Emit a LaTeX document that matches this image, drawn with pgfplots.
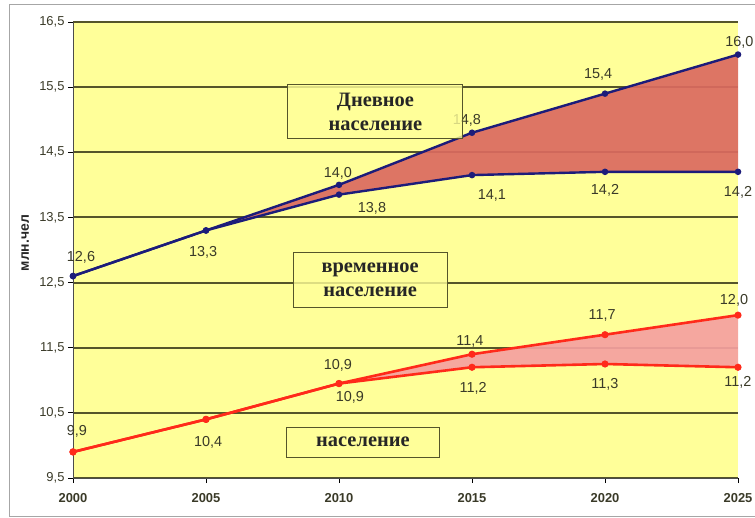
\documentclass[border=0pt]{standalone}
\usepackage{pgfplots}
\pgfplotsset{compat=1.18}
\usepgfplotslibrary{fillbetween}
\usepackage{fontspec}
\setmainfont{Liberation Sans}
\newfontfamily\serifb{Liberation Serif}
\definecolor{bg}{HTML}{FFFF99}
\definecolor{gridc}{HTML}{55552A}
\definecolor{navy}{HTML}{1C1C7A}
\definecolor{redl}{HTML}{FF2A1A}
\definecolor{fillA}{HTML}{DB6A60}
\definecolor{fillB}{HTML}{F5A0A0}
\definecolor{lbl}{HTML}{3A3A28}
\tikzset{
  lbl/.style={font=\fontsize{14.5}{16}\selectfont, text=lbl, inner sep=0pt},
  box/.style={draw=gridc, fill=bg, fill opacity=0.8, text opacity=1, line width=0.9bp, align=center,
    font=\serifb\bfseries\fontsize{20.5}{24}\selectfont, text=black!85, inner sep=0pt},
}
\begin{document}
\begin{tikzpicture}
\begin{axis}[
  set layers, clip=false,
  scale only axis, width=665bp, height=456bp,
  xmin=2000, xmax=2025, ymin=9.5, ymax=16.5,
  xtick={2000,2005,2010,2015,2020,2025},
  ytick={9.5,10.5,11.5,12.5,13.5,14.5,15.5,16.5},
  axis background/.style={fill=bg},
  ymajorgrids, grid style={gridc, line width=2bp},
  axis lines=left,
  axis line style={-, draw=gray!60!black, line width=0.8bp},
  tick align=outside, major tick length=5bp,
  tick style={black, line width=0.8bp},
  /pgf/number format/assume math mode=true,
  ticklabel style={font=\fontsize{13}{15}\selectfont, text=lbl},
  yticklabel style={/pgf/number format/use comma, /pgf/number format/fixed,
     /pgf/number format/fixed zerofill, /pgf/number format/precision=1},
  xticklabel style={/pgf/number format/1000 sep={}, font=\bfseries\fontsize{13}{15}\selectfont, yshift=-7bp},
]
% daytime population (blue)
\addplot[navy, line width=2.4bp, mark=*, mark size=2bp, name path=bu]
  coordinates {(2000,12.6)(2005,13.3)(2010,14.0)(2015,14.8)(2020,15.4)(2025,16.0)};
\addplot[navy, line width=2.4bp, mark=*, mark size=2bp, name path=bl]
  coordinates {(2000,12.6)(2005,13.3)(2010,13.85)(2015,14.15)(2020,14.2)(2025,14.2)};
\addplot[fillA, fill opacity=0.92, draw=none] fill between[of=bu and bl];
% population (red)
\addplot[redl, line width=2.6bp, mark=*, mark size=2.2bp, name path=ru]
  coordinates {(2000,9.9)(2005,10.4)(2010,10.95)(2015,11.4)(2020,11.7)(2025,12.0)};
\addplot[redl, line width=2.6bp, mark=*, mark size=2.2bp, name path=rl]
  coordinates {(2000,9.9)(2005,10.4)(2010,10.95)(2015,11.2)(2020,11.25)(2025,11.2)};
\addplot[fillB, fill opacity=0.92, draw=none] fill between[of=ru and rl];
% value labels
\node[lbl] at (axis cs:2000.3,12.89) {12,6};
\node[lbl] at (axis cs:2004.89,12.97) {13,3};
\node[lbl] at (axis cs:2009.96,14.18) {14,0};
\node[lbl] at (axis cs:2011.24,13.64) {13,8};
\node[lbl] at (axis cs:2014.81,14.99) {14,8};
\node[lbl] at (axis cs:2015.75,13.83) {14,1};
\node[lbl] at (axis cs:2019.74,15.69) {15,4};
\node[lbl] at (axis cs:2020.0,13.92) {14,2};
\node[lbl] at (axis cs:2025.05,16.18) {16,0};
\node[lbl] at (axis cs:2025.0,13.89) {14,2};
\node[lbl] at (axis cs:2000.15,10.21) {9,9};
\node[lbl] at (axis cs:2005.08,10.05) {10,4};
\node[lbl] at (axis cs:2009.96,11.23) {10,9};
\node[lbl] at (axis cs:2010.41,10.73) {10,9};
\node[lbl] at (axis cs:2014.92,11.59) {11,4};
\node[lbl] at (axis cs:2015.04,10.88) {11,2};
\node[lbl] at (axis cs:2019.89,12.0) {11,7};
\node[lbl] at (axis cs:2020.0,10.93) {11,3};
\node[lbl] at (axis cs:2024.85,12.23) {12,0};
\node[lbl] at (axis cs:2025.0,10.97) {11,2};
% text boxes
\node[box, minimum width=175bp, minimum height=54bp] at (axis cs:2011.37,15.12) {Дневное\\население};
\node[box, minimum width=154bp, minimum height=55bp] at (axis cs:2011.17,12.54) {временное\\население};
\node[box, minimum width=153bp, minimum height=30bp] at (axis cs:2010.90,10.05) {население};
% y label
\node[rotate=90, font=\bfseries\fontsize{14}{16}\selectfont, text=black!85] at (axis description cs:-0.072,0.515) {млн.чел};
\end{axis}
\draw[gray!70, line width=1bp] (682bp,473bp) -- (-63bp,473bp) -- (-63bp,-38bp) -- (682bp,-38bp);
\pgfresetboundingbox
\path (-73bp,-40bp) rectangle (682bp,478bp);
\end{tikzpicture}
\end{document}
